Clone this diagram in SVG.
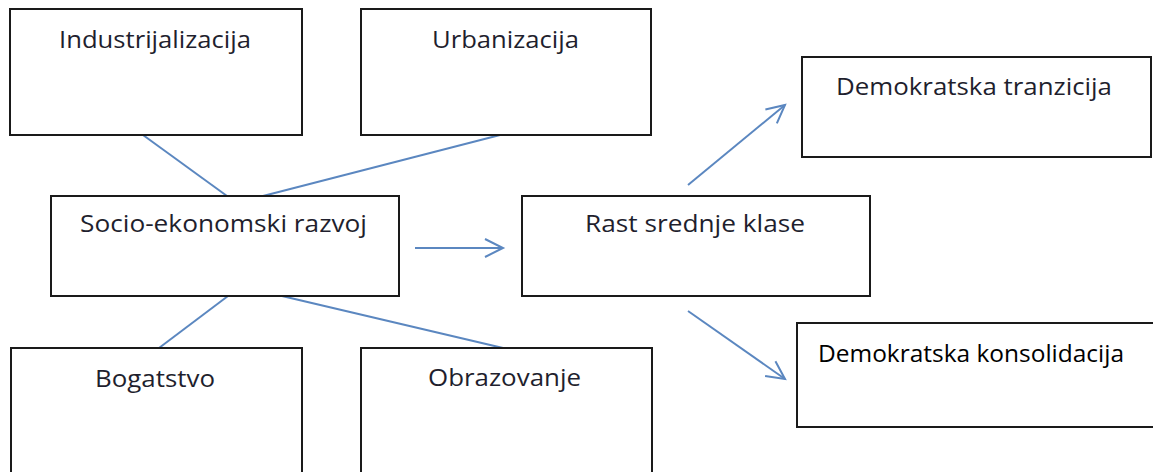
<svg xmlns="http://www.w3.org/2000/svg" width="1153" height="472" viewBox="0 0 1153 472">
<style>
.box{fill:#fff;stroke:#1a1a1a;stroke-width:2}
.lbl{font-family:"Open Sans","Noto Sans",sans-serif;font-size:24px;fill:#1f1f2e}
.lblb{font-family:"Open Sans","Noto Sans",sans-serif;font-size:24px;fill:#000}
.conn{stroke:#5b87c0;stroke-width:2;fill:none}
</style>
<defs>
<marker id="ah" markerUnits="userSpaceOnUse" markerWidth="24" markerHeight="24" refX="19" refY="10" orient="auto" viewBox="0 0 24 20">
<path d="M1,1 L19,10 L1,19" fill="none" stroke="#5b87c0" stroke-width="2"/>
</marker>
</defs>
<rect width="1153" height="472" fill="#fff"/>
<g id="connectors">
<line class="conn" x1="143" y1="135" x2="227" y2="196"/>
<line class="conn" x1="500" y1="135" x2="263" y2="196"/>
<line class="conn" x1="228" y1="296" x2="159" y2="348"/>
<line class="conn" x1="282" y1="296" x2="503" y2="348"/>
<line class="conn" x1="415" y1="248" x2="503" y2="248" marker-end="url(#ah)"/>
<line class="conn" x1="688" y1="185" x2="785" y2="105" marker-end="url(#ah)"/>
<line class="conn" x1="688" y1="311" x2="785" y2="379" marker-end="url(#ah)"/>
</g>
<g id="industrijalizacija">
<rect class="box" x="10" y="9" width="292" height="126"/>
<text class="lbl" x="59" y="48" textLength="192" lengthAdjust="spacingAndGlyphs">Industrijalizacija</text>
</g>
<g id="urbanizacija">
<rect class="box" x="361" y="9" width="290" height="126"/>
<text class="lbl" x="432" y="48" textLength="147" lengthAdjust="spacingAndGlyphs">Urbanizacija</text>
</g>
<g id="socio">
<rect class="box" x="51" y="196" width="348" height="100"/>
<text class="lbl" x="80" y="232" textLength="287" lengthAdjust="spacingAndGlyphs">Socio-ekonomski razvoj</text>
</g>
<g id="rast">
<rect class="box" x="522" y="196" width="348" height="100"/>
<text class="lbl" x="585" y="232" textLength="220" lengthAdjust="spacingAndGlyphs">Rast srednje klase</text>
</g>
<g id="tranzicija">
<rect class="box" x="802" y="57" width="349" height="100"/>
<text class="lbl" x="836" y="95" textLength="276" lengthAdjust="spacingAndGlyphs">Demokratska tranzicija</text>
</g>
<g id="konsolidacija">
<rect class="box" x="797" y="323" width="360" height="104"/>
<text class="lblb" x="818" y="362" textLength="306" lengthAdjust="spacingAndGlyphs">Demokratska konsolidacija</text>
</g>
<g id="bogatstvo">
<rect class="box" x="11" y="348" width="291" height="130"/>
<text class="lbl" x="95" y="387" textLength="120" lengthAdjust="spacingAndGlyphs">Bogatstvo</text>
</g>
<g id="obrazovanje">
<rect class="box" x="361" y="348" width="291" height="130"/>
<text class="lbl" x="428" y="386" textLength="153" lengthAdjust="spacingAndGlyphs">Obrazovanje</text>
</g>
</svg>
